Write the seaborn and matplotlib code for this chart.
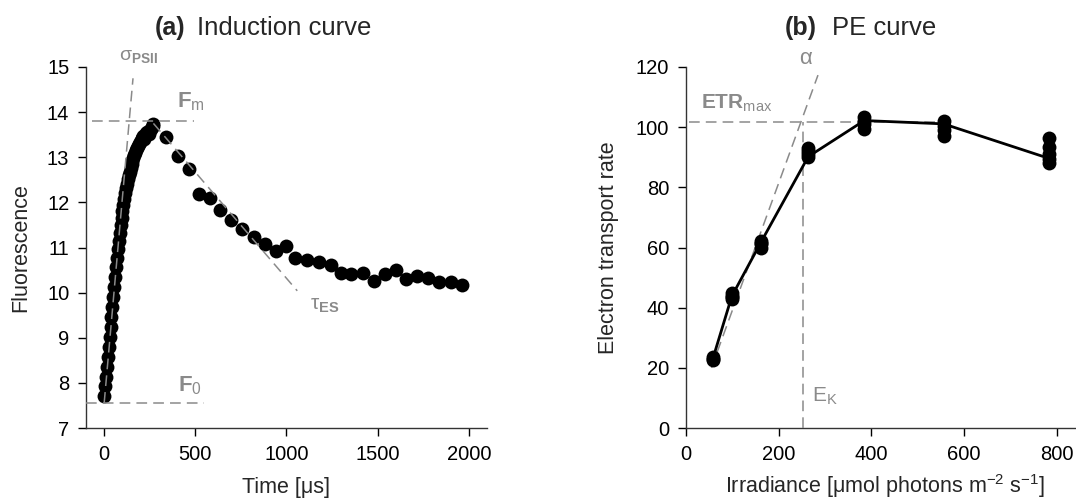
import matplotlib
matplotlib.use("Agg")
from matplotlib import pyplot as plt
import seaborn as sns
import pandas as pd
import numpy as np

# (a) induction curve: fast rise (dense flashlets) + slow relaxation
time_rise = [0, 5, 10, 15, 20, 25, 30, 35, 40, 45, 50, 55, 60, 65, 70, 75, 80, 85,
             90, 95, 100, 105, 110, 115, 120, 125, 130, 135, 140, 145, 150, 155,
             160, 165, 170, 175, 180, 185, 190, 195, 200, 205, 210, 215, 220, 225,
             230, 235, 240, 245, 250, 255, 260, 265, 270]
fluo_rise = [7.70, 7.92, 8.14, 8.36, 8.58, 8.80, 9.02, 9.24, 9.46, 9.68, 9.90, 10.12,
             10.34, 10.56, 10.76, 10.96, 11.15, 11.33, 11.50, 11.66, 11.81, 11.95,
             12.08, 12.20, 12.31, 12.41, 12.51, 12.60, 12.68, 12.76, 12.84, 12.91,
             12.98, 13.04, 13.10, 13.15, 13.20, 13.25, 13.29, 13.33, 13.37, 13.40,
             13.43, 13.46, 13.40, 13.50, 13.53, 13.55, 13.57, 13.52, 13.60, 13.62,
             13.66, 13.70, 13.73]
time_relax = [339, 405, 463, 522, 579, 637, 698, 758, 820, 881, 940, 998, 1049, 1113,
              1177, 1242, 1297, 1355, 1419, 1480, 1538, 1599, 1657, 1718, 1778, 1837,
              1901, 1962]
fluo_relax = [13.45, 13.03, 12.75, 12.18, 12.09, 11.84, 11.61, 11.42, 11.24, 11.07,
              10.92, 11.04, 10.76, 10.72, 10.68, 10.61, 10.44, 10.41, 10.43, 10.26,
              10.41, 10.51, 10.30, 10.37, 10.32, 10.23, 10.23, 10.18]

# (b) PE curve: replicate measurements per irradiance step
irr_steps = [58, 99, 161, 264, 385, 556, 784]
etr_reps = [[22.5, 23.0, 23.5],
            [43.0, 43.5, 44.0, 45.0],
            [60.0, 61.0, 61.5, 62.0],
            [90.0, 91.0, 92.0, 93.0],
            [99.5, 101.0, 102.0, 103.5],
            [97.0, 99.0, 100.5, 102.0],
            [88.0, 89.5, 91.0, 93.5, 96.5]]
etr_fit = [23.0, 43.8, 61.5, 90.2, 102.2, 101.1, 89.6]

# model parameters drawn as grey guides
f0, fm = 7.56, 13.81
etr_max, alpha_x, alpha_y = 101.8, [55, 285], [20.0, 117.3]
ek = 253

sns.set_style("ticks")
plt.rcParams['font.family'] = ['Liberation Sans', 'DejaVu Sans']
plt.rcParams['mathtext.fontset'] = 'custom'
plt.rcParams['mathtext.rm'] = 'Liberation Sans'
plt.rcParams['mathtext.it'] = 'Liberation Sans'
plt.rcParams['mathtext.bf'] = 'Liberation Sans:bold'

grey = "#8a8a8a"
dash = dict(color=grey, lw=1.1, ls=(0, (7, 4)), zorder=3)

fig = plt.figure(figsize=(10.76, 5.0), dpi=100)
ax1 = fig.add_axes([0.0799, 0.144, 0.3727, 0.722])
ax2 = fig.add_axes([0.6375, 0.144, 0.3625, 0.722])

ind = pd.DataFrame({"t": time_rise + time_relax, "f": fluo_rise + fluo_relax})
sns.scatterplot(data=ind, x="t", y="f", ax=ax1, color="black", s=100,
                edgecolor="black", linewidth=0, zorder=2)

ax1.plot([0, 158], [f0, 14.75], **dash)
ax1.plot([-68, 495], [fm, fm], **dash)
ax1.plot([-100, 545], [f0, f0], **dash)
ax1.plot([270, 1059], [13.75, 10.04], **dash)
ax1.text(190, 15.05, r"$\mathrm{\sigma}_{\mathbf{PSII}}$", color=grey, fontsize=14,
         ha="center", va="bottom", clip_on=False)
ax1.text(400, 13.98, r"$\mathbf{F}_{\mathrm{m}}$", color=grey, fontsize=16,
         ha="left", va="bottom")
ax1.text(405, 7.68, r"$\mathbf{F}_{\mathrm{0}}$", color=grey, fontsize=16,
         ha="left", va="bottom")
ax1.text(1130, 9.72, r"$\mathrm{\tau}_{\mathbf{ES}}$", color=grey, fontsize=15,
         ha="left", va="center")

ax1.set_xlim(-100, 2100)
ax1.set_ylim(7, 15)
ax1.set_xticks([0, 500, 1000, 1500, 2000])
ax1.set_yticks(range(7, 16))
ax1.set_xlabel("Time [μs]", fontsize=15.5, va="baseline")
ax1.set_ylabel("Fluorescence", fontsize=15.5, labelpad=11)

pe = pd.DataFrame({"irr": np.repeat(irr_steps, [len(r) for r in etr_reps]),
                   "etr": np.concatenate(etr_reps)})
fit = pd.DataFrame({"irr": irr_steps, "etr": etr_fit})
sns.lineplot(data=fit, x="irr", y="etr", ax=ax2, color="black", lw=2, zorder=4)
sns.scatterplot(data=pe, x="irr", y="etr", ax=ax2, color="black", s=100,
                edgecolor="black", linewidth=0, zorder=5)

ax2.plot(alpha_x, alpha_y, **dash)
ax2.plot([6, 560], [etr_max, etr_max], **dash)
ax2.plot([ek, ek], [0, etr_max], **dash)
ax2.text(259, 119.5, r"$\mathrm{\alpha}$", color=grey, fontsize=16, ha="center", va="bottom")
ax2.text(33, 104.5, r"$\mathbf{ETR}_{\mathrm{max}}$", color=grey, fontsize=15,
         ha="left", va="bottom")
ax2.text(272, 10.5, r"$\mathrm{E}_{\mathrm{K}}$", color=grey, fontsize=15,
         ha="left", va="center")

ax2.set_xlim(0, 842)
ax2.set_ylim(0, 120)
ax2.set_xticks([0, 200, 400, 600, 800])
ax2.set_yticks(range(0, 121, 20))
ax2.set_xlabel(r"Irradiance [μmol photons m$^{\mathrm{-2}}$ s$^{\mathrm{-1}}$]",
               fontsize=15.5, va="baseline")
ax2.set_ylabel("Electron transport rate", fontsize=15.5, labelpad=12)

# x labels sit on a common baseline just above the bottom edge
ax1.xaxis.set_label_coords(0.5, -(493 - 428) / 361)
ax2.xaxis.set_label_coords(0.51, -(493 - 428) / 361)

for ax in (ax1, ax2):
    sns.despine(ax=ax)
    ax.tick_params(labelsize=14.5, length=6, width=1, pad=6, colors="black")
    for s in ("left", "bottom"):
        ax.spines[s].set_color("#333333")
        ax.spines[s].set_linewidth(1)

fig.text(155 / 1076, 1 - 28 / 500, "(a)", fontsize=18, fontweight="bold", va="center")
fig.text(197 / 1076, 1 - 28 / 500, "Induction curve", fontsize=18.5, va="center")
fig.text(785 / 1076, 1 - 28 / 500, "(b)", fontsize=18, fontweight="bold", va="center")
fig.text(832 / 1076, 1 - 28 / 500, "PE curve", fontsize=18.5, va="center")

fig.savefig("out.png", dpi=100, facecolor="white")
